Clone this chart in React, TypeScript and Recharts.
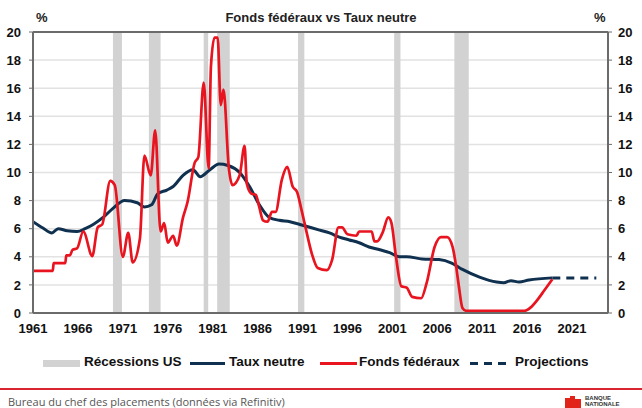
import { LineChart, Line, XAxis, YAxis, CartesianGrid, ReferenceArea, ReferenceLine } from "recharts";

// Fonds fédéraux (%)
const ffYears = [
  1961, 1963.2, 1963.3, 1964.6, 1964.7, 1965.1, 1965.4, 1965.9, 1966.6, 1967.6, 1968.2, 1968.7, 1969.6, 1970.1,
  1971.0, 1971.6, 1972.1, 1972.9, 1973.4, 1974.1, 1974.6, 1975.2, 1975.6, 1976.0, 1976.6, 1977.0, 1977.7,
  1978.2, 1979.0, 1979.4, 1980.0, 1980.55, 1980.8, 1981.2, 1981.55, 1981.9, 1982.2, 1982.8, 1983.2, 1984.0,
  1984.55, 1984.8, 1985.3, 1985.8, 1986.2, 1986.6, 1987.1, 1987.6, 1988.0, 1988.7, 1989.3, 1989.9, 1990.4,
  1990.9, 1991.4, 1992.0, 1992.7, 1993.7, 1994.3, 1995.0, 1995.4, 1996.0, 1997.0, 1997.3, 1998.7, 1999.0,
  1999.3, 1999.9, 2000.55, 2000.9, 2001.4, 2002.0, 2002.6, 2003.2, 2004.2, 2004.8, 2005.7, 2006.4, 2007.1,
  2007.7, 2008.1, 2008.4, 2008.8, 2009.2, 2012.0, 2015.7, 2016.4, 2017.1, 2017.9, 2018.8,
];
const ffValues = [
  3.0, 3.0, 3.55, 3.55, 4.1, 4.1, 4.5, 4.6, 5.8, 4.05, 6.1, 6.3, 9.4, 9.1,
  4.0, 5.7, 3.6, 5.3, 11.2, 9.8, 13.0, 5.8, 6.4, 5.0, 5.5, 4.8, 6.8,
  7.9, 10.7, 11.1, 16.4, 10.3, 17.5, 19.6, 19.6, 14.8, 15.9, 10.3, 9.1, 9.8,
  11.9, 9.2, 8.5, 8.4, 7.5, 6.6, 6.5, 7.2, 7.2, 9.5, 10.4, 9.0, 8.6,
  7.3, 5.9, 4.3, 3.2, 3.05, 3.8, 6.1, 6.1, 5.6, 5.5, 5.8, 5.8, 5.1,
  5.1, 5.7, 6.8, 6.4, 4.0, 1.9, 1.8, 1.15, 1.05, 2.1, 4.7, 5.4, 5.4,
  4.7, 3.3, 1.9, 0.35, 0.15, 0.15, 0.15, 0.4, 0.9, 1.6, 2.4,
];

// Taux neutre (%)
const tnYears = [
  1961, 1962.1, 1963.1, 1963.8, 1964.8, 1965.9, 1966.8, 1967.7, 1968.8, 1969.9, 1971.2, 1972.6, 1973.4,
  1974.2, 1974.9, 1975.9, 1976.6, 1977.7, 1978.8, 1979.6, 1980.7, 1981.7, 1982.7, 1984.0, 1985.1, 1986.2,
  1987.3, 1988.4, 1989.6, 1990.7, 1991.8, 1992.9, 1994.0, 1995.1, 1996.2, 1997.3, 1998.4, 1999.6, 2000.7,
  2001.8, 2002.6, 2004.3, 2006.2, 2007.6, 2008.8, 2010.7, 2012.6, 2013.4, 2014.2, 2015.1, 2016.2, 2018.8,
];
const tnValues = [
  6.5, 6.05, 5.7, 6.0, 5.85, 5.8, 6.0, 6.3, 6.8, 7.45, 8.0, 7.85, 7.55,
  7.7, 8.5, 8.75, 9.0, 9.8, 10.2, 9.7, 10.2, 10.6, 10.5, 10.0, 9.0, 7.7,
  6.8, 6.6, 6.5, 6.3, 6.1, 5.9, 5.7, 5.4, 5.2, 5.0, 4.7, 4.5, 4.3,
  4.0, 4.0, 3.85, 3.8, 3.55, 3.1, 2.55, 2.2, 2.15, 2.3, 2.2, 2.35, 2.5,
];

// Projections
const projYears = [2018.8, 2023.7];
const projValues = [2.5, 2.5];

// Récessions US (début, fin)
const recStart = [1969.9, 1973.9, 1980.0, 1981.5, 1990.5, 2001.2, 2007.9];
const recEnd = [1970.9, 1975.2, 1980.5, 1982.9, 1991.2, 2001.9, 2009.5];

const xTicks = [1961, 1966, 1971, 1976, 1981, 1986, 1991, 1996, 2001, 2006, 2011, 2016, 2021];
const yTicks = [0, 2, 4, 6, 8, 10, 12, 14, 16, 18, 20];

const toRows = (xs: number[], ys: number[]) => xs.map((year, i) => ({ year, value: ys[i] }));

const ffData = toRows(ffYears, ffValues);
const tnData = toRows(tnYears, tnValues);
const projData = toRows(projYears, projValues);

const NAVY = "#10304f";
const RED = "#e8141f";
const GREY_BAR = "#d2d2d2";
const AXIS = "#6b6b6b";
const font = "'Liberation Sans', Arial, sans-serif";

const tickStyle = { fontSize: 13, fontWeight: 700, fill: "#111", fontFamily: font };

export default function App() {
  return (
    <div style={{ position: "absolute", left: 0, top: 0, width: 642, height: 408, background: "#fff", fontFamily: font, overflow: "hidden" }}>
      <div style={{ position: "absolute", left: 0, width: 642, top: 10, textAlign: "center", fontSize: 13, fontWeight: 700, color: "#222" }}>
        Fonds fédéraux vs Taux neutre
      </div>
      <div style={{ position: "absolute", left: 36, top: 10, fontSize: 13, fontWeight: 700, color: "#222" }}>%</div>
      <div style={{ position: "absolute", left: 594, top: 10, fontSize: 13, fontWeight: 700, color: "#222" }}>%</div>

      <div style={{ position: "absolute", left: 0, top: 0 }}>
        <LineChart width={642} height={342} margin={{ top: 32, right: 0, bottom: 0, left: 0 }}>
          <CartesianGrid vertical={false} stroke="#e2e2e2" strokeWidth={1.5} yAxisId="left" />
          <XAxis
            dataKey="year"
            type="number"
            domain={[1961, 2025]}
            ticks={xTicks}
            allowDataOverflow
            tickLine={false}
            axisLine={{ stroke: AXIS, strokeWidth: 2 }}
            tick={tickStyle}
            tickMargin={5}
            height={29}
          />
          <YAxis
            yAxisId="left"
            domain={[0, 20]}
            ticks={yTicks}
            width={33}
            tickSize={4}
            tickMargin={8}
            tickLine={{ stroke: AXIS }}
            axisLine={{ stroke: AXIS, strokeWidth: 2 }}
            tick={tickStyle}
          />
          <YAxis
            yAxisId="right"
            orientation="right"
            domain={[0, 20]}
            ticks={yTicks}
            width={34}
            tickSize={4}
            tickMargin={6}
            tickLine={{ stroke: AXIS }}
            axisLine={{ stroke: AXIS, strokeWidth: 2 }}
            tick={tickStyle}
          />
          {recStart.map((s, i) => (
            <ReferenceArea key={s} yAxisId="left" x1={s} x2={recEnd[i]} y1={0} y2={20} fill={GREY_BAR} fillOpacity={1} stroke="none" />
          ))}
          <ReferenceLine yAxisId="left" y={20} stroke={AXIS} strokeWidth={2} />
          <Line yAxisId="left" data={tnData} dataKey="value" type="monotone" stroke={NAVY} strokeWidth={3} dot={false} isAnimationActive={false} />
          <Line yAxisId="right" data={projData} dataKey="value" type="linear" stroke={NAVY} strokeWidth={3} strokeDasharray="8 6" dot={false} isAnimationActive={false} />
          <Line yAxisId="left" data={ffData} dataKey="value" type="monotone" stroke={RED} strokeWidth={2.7} dot={false} isAnimationActive={false} />
        </LineChart>
      </div>

      {/* légende */}
      <div style={{ position: "absolute", top: 354, left: 0, width: 642, height: 18, fontSize: 13.5, fontWeight: 700, color: "#111" }}>
        <div style={{ position: "absolute", left: 43, top: 6, width: 37, height: 7, background: GREY_BAR }} />
        <div style={{ position: "absolute", left: 84, top: 0 }}>Récessions US</div>
        <div style={{ position: "absolute", left: 190, top: 8, width: 35, height: 3, background: NAVY }} />
        <div style={{ position: "absolute", left: 229, top: 0 }}>Taux neutre</div>
        <div style={{ position: "absolute", left: 320, top: 8, width: 37, height: 3, background: RED }} />
        <div style={{ position: "absolute", left: 359, top: 0 }}>Fonds fédéraux</div>
        <svg style={{ position: "absolute", left: 470, top: 7 }} width={40} height={5}>
          <line x1={0} y1={2.5} x2={40} y2={2.5} stroke={NAVY} strokeWidth={3} strokeDasharray="8 6" />
        </svg>
        <div style={{ position: "absolute", left: 515, top: 0 }}>Projections</div>
      </div>

      {/* pied */}
      <div style={{ position: "absolute", left: 0, top: 388, width: 642, height: 2, background: "#d92530" }} />
      <div style={{ position: "absolute", left: 8, top: 394, fontSize: 11, color: "#555", fontFamily: "'Open Sans', sans-serif" }}>
        Bureau du chef des placements (données via Refinitiv)
      </div>
      <svg style={{ position: "absolute", left: 565, top: 396 }} width={16} height={12}>
        <path d="M0 2 L5 2 L5 0 L10 0 L10 3 L16 3 L16 12 L0 12 Z" fill="#e2231a" />
      </svg>
      <div style={{ position: "absolute", left: 585, top: 395, fontSize: 6, fontWeight: 700, color: "#333", lineHeight: "6px" }}>
        BANQUE<br />NATIONALE
      </div>
    </div>
  );
}
